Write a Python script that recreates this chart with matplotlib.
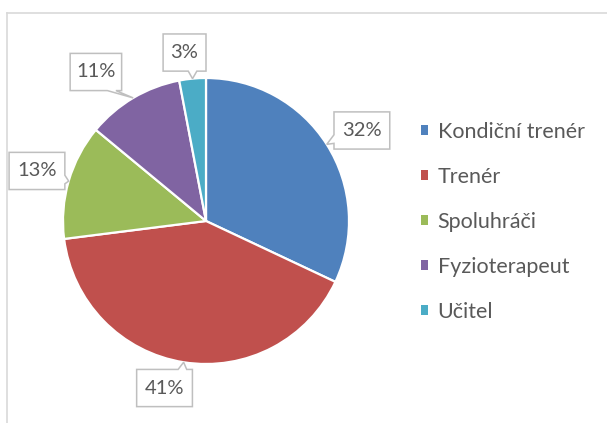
import numpy as np
import matplotlib
matplotlib.use("Agg")
import matplotlib.pyplot as plt
from matplotlib.patches import Polygon, Rectangle
from matplotlib.lines import Line2D

plt.rcParams['font.family'] = ['Lato', 'DejaVu Sans']

categories = ['Kondiční trenér', 'Trenér', 'Spoluhráči', 'Fyzioterapeut', 'Učitel']
shares = [32, 41, 13, 11, 3]
colors = ['#4F81BD', '#C0504D', '#9BBB59', '#8064A2', '#4BACC6']

# callout layout: box centre (in pie radii), box width, side carrying the tab
box_centres = [(1.09, 0.633), (-0.29, -1.168), (-1.182, 0.350), (-0.77, 1.042), (-0.15, 1.178)]
box_widths = [0.39, 0.39, 0.39, 0.36, 0.30]
tab_sides = ['left', 'top', 'right', 'bottom', 'bottom']

TEXT = '#595959'
GRID = '#BFBFBF'

W, H = 607, 423
fig = plt.figure(figsize=(W / 100, H / 100), dpi=100)

# chart area border (right and bottom edges fall outside the image)
fig.add_artist(Line2D([7 / W, 1], [1 - 13 / H, 1 - 13 / H], color='#D9D9D9', lw=1.2))
fig.add_artist(Line2D([7 / W, 7 / W], [0, 1 - 13 / H], color='#D9D9D9', lw=1.2))

cx, cy, r = 206, 221, 143
ax = fig.add_axes([(cx - r) / W, (H - cy - r) / H, 2 * r / W, 2 * r / H])
wedges, _ = ax.pie(shares, colors=colors, startangle=90, counterclock=False,
                   radius=1, wedgeprops=dict(edgecolor='white', linewidth=1.6))
ax.set_xlim(-1, 1)
ax.set_ylim(-1, 1)
ax.set_aspect('equal')
ax.axis('off')


def callout_path(x0, y0, x1, y1, tip, side, base=0.06, margin=0.04):
    tx, ty = tip
    if side in ('left', 'right'):
        c = np.clip(ty, y0 + margin + base / 2, y1 - margin - base / 2)
        if side == 'left':
            return [(x0, y0), (x1, y0), (x1, y1), (x0, y1),
                    (x0, c + base / 2), (tx, ty), (x0, c - base / 2)]
        return [(x0, y0), (x1, y0), (x1, c - base / 2), (tx, ty),
                (x1, c + base / 2), (x1, y1), (x0, y1)]
    c = np.clip(tx, x0 + margin + base / 2, x1 - margin - base / 2)
    if side == 'bottom':
        return [(x0, y0), (c - base / 2, y0), (tx, ty), (c + base / 2, y0),
                (x1, y0), (x1, y1), (x0, y1)]
    return [(x0, y0), (x1, y0), (x1, y1), (c + base / 2, y1), (tx, ty),
            (c - base / 2, y1), (x0, y1)]


angle = 90.0
box_h = 0.26
for val, (bx, by), bw, side in zip(shares, box_centres, box_widths, tab_sides):
    sweep = 360.0 * val / sum(shares)
    mid = np.deg2rad(angle - sweep / 2)
    angle -= sweep
    tip = (np.cos(mid) * 1.0, np.sin(mid) * 1.0)
    pts = callout_path(bx - bw / 2, by - box_h / 2, bx + bw / 2, by + box_h / 2, tip, side)
    ax.add_patch(Polygon(pts, closed=True, facecolor='white', edgecolor=GRID,
                         lw=1.1, clip_on=False, zorder=5, joinstyle='miter'))
    ax.text(bx, by, f'{val}%', ha='center', va='center', fontsize=14.5,
            color=TEXT, zorder=6, clip_on=False)

handles = [Rectangle((0, 0), 1, 1, facecolor=c, edgecolor='none') for c in colors]
leg = fig.legend(handles, categories, loc='upper left',
                 bbox_to_anchor=(410 / W, 1 - 111 / H), frameon=False,
                 fontsize=15.5, handlelength=0.33, handleheight=0.33,
                 handletextpad=0.45, labelspacing=1.16, borderpad=0)
for t in leg.get_texts():
    t.set_color(TEXT)

fig.savefig('out.png', dpi=100)
